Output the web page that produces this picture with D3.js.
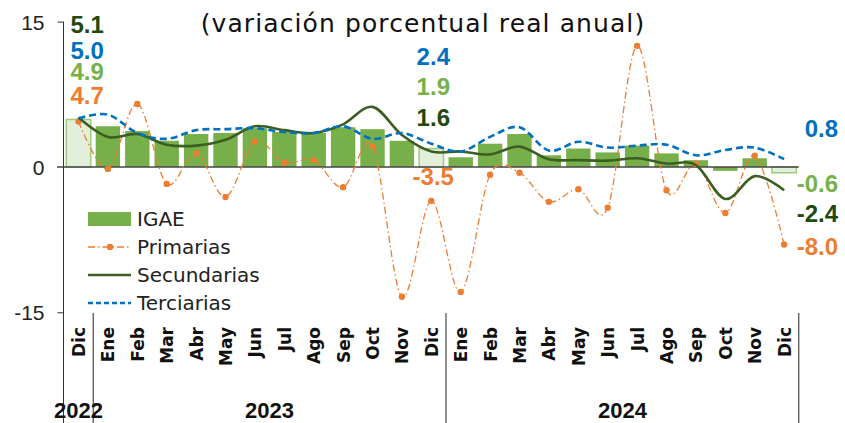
<!DOCTYPE html>
<html><head><meta charset="utf-8">
<script src="https://cdn.jsdelivr.net/npm/d3@7"></script>
<style>body{margin:0;background:#fff}svg{display:block}</style>
</head><body>
<svg id="c" width="845" height="423"></svg>
<script>
// ---------- data ----------
const categories = ["Dic","Ene","Feb","Mar","Abr","May","Jun","Jul","Ago","Sep","Oct","Nov","Dic",
                    "Ene","Feb","Mar","Abr","May","Jun","Jul","Ago","Sep","Oct","Nov","Dic"];
const years = ["2022","2023","2024"];
const yearSpans = [[0,0],[1,12],[13,24]];
const igae        = [4.9,4.2,3.7,2.7,3.4,3.5,4.0,3.6,3.5,4.1,3.9,2.7,1.9,1.0,2.4,3.4,1.2,1.9,1.5,2.2,1.4,0.7,-0.4,0.9,-0.6];
const primarias   = [4.7,-0.2,6.5,-1.75,1.4,-3.1,2.6,0.45,0.7,-2.1,2.1,-13.4,-3.5,-12.9,-0.8,-0.6,-3.6,-2.3,-4.2,12.5,-2.4,0.3,-4.75,1.15,-8.0];
const secundarias = [5.1,3.1,3.4,2.3,2.2,2.8,4.2,3.8,3.5,4.4,6.2,3.3,1.6,1.6,1.3,2.1,0.8,0.7,0.65,0.9,0.35,0.2,-3.3,-0.95,-2.4];
const terciarias  = [5.0,5.4,3.5,2.9,3.8,3.9,4.0,3.6,3.5,4.2,2.9,3.5,2.4,1.6,3.1,4.1,1.7,2.6,2.0,2.2,2.3,1.2,1.75,2.0,0.8];
const yTicks = [-15, 0, 15];
const lightBars = [0, 12, 24];
const title = "(variación porcentual real anual)";
const legendNames = ["IGAE","Primarias","Secundarias","Terciarias"];

// ---------- styles ----------
const C = {
  bar:"#77B04A", lightFill:"#E2EFDA", lightStroke:"#9CCB7C",
  prim:"#ED7D31", sec:"#3B5E22", ter:"#0070C0",
  secText:"#1F4A0E", igaeText:"#76B14A", axis:"#333"
};

const svg = d3.select("#c");
const idx = d3.range(categories.length);
const x = d3.scaleBand().domain(idx).range([63.8, 798.8]).paddingInner(0.17).paddingOuter(0.085);
const cx = i => x(i) + x.bandwidth()/2;
const step = x.step();
const y = d3.scaleLinear().domain([-15, 15]).range([312.3, 21.6]);

// title
svg.append("text").attr("x", 423).attr("y", 32).attr("text-anchor","middle")
  .attr("font-family","DejaVu Sans").attr("font-size",25).attr("letter-spacing",1.1)
  .attr("fill","#111").text(title);

// bars
svg.append("g").selectAll("rect").data(idx).join("rect")
  .attr("x", i => x(i)).attr("width", x.bandwidth())
  .attr("y", i => y(Math.max(0, igae[i])))
  .attr("height", i => Math.abs(y(igae[i]) - y(0)))
  .attr("fill", i => lightBars.includes(i) ? C.lightFill : C.bar)
  .attr("stroke", i => lightBars.includes(i) ? C.lightStroke : "none")
  .attr("stroke-width", 1.5);

// zero line
svg.append("line").attr("x1", 57).attr("x2", 798.8).attr("y1", y(0)).attr("y2", y(0))
  .attr("stroke","#444").attr("stroke-width",1.6);

// y axis
const yAxis = d3.axisLeft(y).tickValues(yTicks).tickSize(6).tickFormat(d => String(d));
const ga = svg.append("g").attr("transform","translate(63.5,0)").call(yAxis);
ga.select(".domain").remove();
ga.selectAll(".tick line").attr("stroke",C.axis);
ga.selectAll(".tick text").attr("font-family","Liberation Sans").attr("font-size",21)
  .attr("fill","#222").attr("x",-19).attr("dy","0.36em");
ga.selectAll(".tick").filter(d => d === 0).select("line").remove();
svg.append("line").attr("x1",63.5).attr("x2",63.5).attr("y1",y(15)).attr("y2",423)
  .attr("stroke",C.axis).attr("stroke-width",1);

// lines
const curve = d3.curveCatmullRom.alpha(0);
const line = arr => d3.line().x(i => cx(i)).y(i => y(arr[i])).curve(curve)(idx);

svg.append("path").attr("d", line(primarias)).attr("fill","none").attr("stroke",C.prim)
  .attr("stroke-width",1.3).attr("stroke-dasharray","7,3,1.5,3");
svg.append("g").selectAll("circle").data(idx).join("circle")
  .attr("cx", i => cx(i)).attr("cy", i => y(primarias[i])).attr("r",3.2).attr("fill",C.prim);
svg.append("path").attr("d", line(secundarias)).attr("fill","none").attr("stroke",C.sec)
  .attr("stroke-width",2.6);
svg.append("path").attr("d", line(terciarias)).attr("fill","none").attr("stroke",C.ter)
  .attr("stroke-width",2.6).attr("stroke-dasharray","7,4");

// category labels
svg.append("g").selectAll("text").data(idx).join("text")
  .attr("transform", i => `translate(${cx(i)+6.5},327) rotate(-90)`)
  .attr("text-anchor","end").attr("font-family","DejaVu Sans").attr("font-weight","bold")
  .attr("font-size",17).attr("fill","#111").text(i => categories[i]);

// year separators and labels
const sepIdx = [1, 13, 25];
svg.append("g").selectAll("line").data(sepIdx).join("line")
  .attr("x1", i => 63.8 + i*step).attr("x2", i => 63.8 + i*step)
  .attr("y1", 313).attr("y2", 423).attr("stroke","#222").attr("stroke-width",1);
svg.append("g").selectAll("text").data(years).join("text")
  .attr("x", (d,k) => (cx(yearSpans[k][0]) + cx(yearSpans[k][1]))/2)
  .attr("y", 418).attr("text-anchor","middle")
  .attr("font-family","Liberation Sans").attr("font-weight","bold").attr("font-size",22)
  .attr("fill","#111").text(d => d);

// value labels
const fmt = v => v.toFixed(1);
const labFont = s => s.attr("font-family","Liberation Sans").attr("font-weight","bold").attr("font-size",24);
const first = 0, mid = 12, last = 24;
const leftLabels = [
  {v: secundarias[first], c: C.secText, y: 33},
  {v: terciarias[first],  c: C.ter,     y: 59},
  {v: igae[first],        c: C.igaeText,y: 80},
  {v: primarias[first],   c: C.prim,    y: 104}
];
const midLabels = [
  {v: terciarias[mid],  c: C.ter,      y: 65},
  {v: igae[mid],        c: C.igaeText, y: 95},
  {v: secundarias[mid], c: C.secText,  y: 126},
  {v: primarias[mid],   c: C.prim,     y: 185}
];
const rightLabels = [
  {v: terciarias[last],  c: C.ter,      y: 137},
  {v: igae[last],        c: C.igaeText, y: 192},
  {v: secundarias[last], c: C.secText,  y: 222},
  {v: primarias[last],   c: C.prim,     y: 255}
];
svg.append("g").selectAll("text").data(leftLabels).join("text")
  .attr("x", cx(first) - 8).attr("y", d => d.y).attr("fill", d => d.c).text(d => fmt(d.v)).call(labFont);
svg.append("g").selectAll("text").data(midLabels).join("text")
  .attr("x", cx(mid) + 2).attr("y", d => d.y).attr("text-anchor","middle")
  .attr("fill", d => d.c).text(d => fmt(d.v)).call(labFont);
svg.append("g").selectAll("text").data(rightLabels).join("text")
  .attr("x", cx(last) + 54).attr("y", d => d.y).attr("text-anchor","end")
  .attr("fill", d => d.c).text(d => fmt(d.v)).call(labFont);

// legend
const lg = svg.append("g").attr("transform","translate(88,0)");
const ly = [219, 247, 275, 303];
lg.append("rect").attr("x",0).attr("y",ly[0]-7).attr("width",43).attr("height",14).attr("fill",C.bar);
lg.append("line").attr("x1",0).attr("x2",43).attr("y1",ly[1]).attr("y2",ly[1])
  .attr("stroke",C.prim).attr("stroke-width",1.3).attr("stroke-dasharray","7,3,1.5,3");
lg.append("circle").attr("cx",22).attr("cy",ly[1]).attr("r",3.2).attr("fill",C.prim);
lg.append("line").attr("x1",0).attr("x2",43).attr("y1",ly[2]).attr("y2",ly[2])
  .attr("stroke",C.sec).attr("stroke-width",2.6);
lg.append("line").attr("x1",0).attr("x2",43).attr("y1",ly[3]).attr("y2",ly[3])
  .attr("stroke",C.ter).attr("stroke-width",2.6).attr("stroke-dasharray","5,3");
lg.selectAll("text").data(legendNames).join("text")
  .attr("x",49).attr("y",(d,k) => ly[k]).attr("dy","0.36em")
  .attr("font-family","DejaVu Sans").attr("font-size",20).attr("fill","#222").text(d => d);
</script>
</body></html>
